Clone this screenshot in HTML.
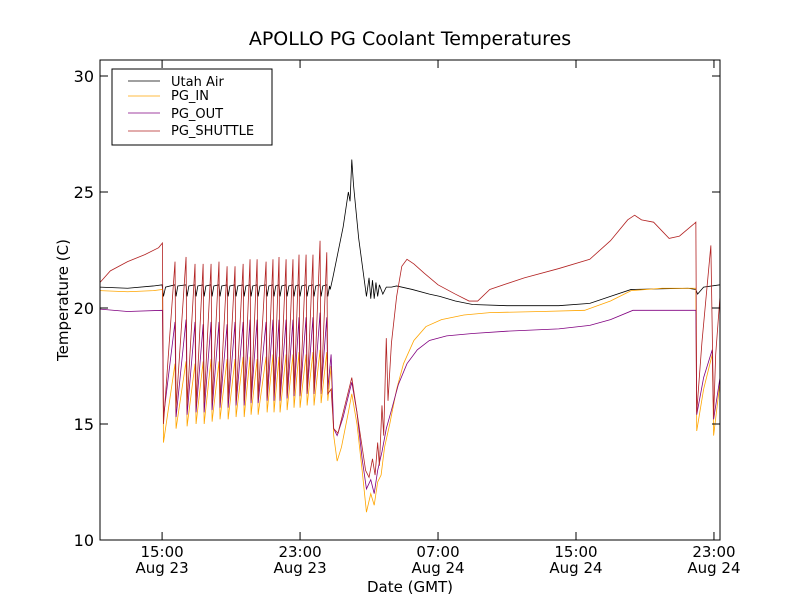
<!DOCTYPE html>
<html><head><meta charset="utf-8"><style>
html,body{margin:0;padding:0;background:#fff;}
svg text{font-family:"DejaVu Sans","Liberation Sans",sans-serif;fill:#000;}
</style></head><body>
<svg id="chart" width="800" height="600" viewBox="0 0 800 600" xmlns="http://www.w3.org/2000/svg">
<rect width="800" height="600" fill="#fff"/>
<text x="410" y="45" font-size="19" text-anchor="middle">APOLLO PG Coolant Temperatures</text>
<g id="plot"></g>
<rect x="100" y="60" width="620" height="480" fill="none" stroke="#000" stroke-width="1"/>
<g id="ticks"></g>
<text transform="translate(68,300) rotate(-90)" font-size="15" text-anchor="middle">Temperature (C)</text>
<text x="410" y="592" font-size="15" text-anchor="middle">Date (GMT)</text>
<g>
<rect x="112" y="69" width="160" height="76" fill="#fff" stroke="#000" stroke-width="1"/>
<line x1="128" y1="81" x2="160" y2="81" stroke="#000" stroke-width="0.7"/>
<text x="171" y="86" font-size="13">Utah Air</text>
<line x1="128" y1="96" x2="160" y2="96" stroke="#FFA500" stroke-width="0.7"/>
<text x="171" y="100" font-size="13">PG_IN</text>
<line x1="128" y1="113" x2="160" y2="113" stroke="#800080" stroke-width="0.7"/>
<text x="171" y="118" font-size="13">PG_OUT</text>
<line x1="128" y1="131" x2="160" y2="131" stroke="#B22222" stroke-width="0.7"/>
<text x="171" y="135" font-size="13">PG_SHUTTLE</text>
</g>
</svg>
<script>
// hours since Aug 23 00:00 GMT
const xTicks = [15, 23, 31, 39, 47];
const xTickTime = ["15:00", "23:00", "07:00", "15:00", "23:00"];
const xTickDate = ["Aug 23", "Aug 23", "Aug 24", "Aug 24", "Aug 24"];
const yTicks = [10, 15, 20, 25, 30];

// oscillation cycles (peak times and values)
const cycleT = [15.75,16.39,16.91,17.38,17.84,18.30,18.77,19.23,19.70,20.10,20.51,21.03,21.43,21.78,22.19,22.59,22.94,23.35,23.75,24.16,24.55];
const shuttlePeak = [22.0,22.2,21.9,21.9,21.9,22.0,21.8,21.8,21.9,22.1,22.1,22.0,22.1,22.2,22.1,22.1,22.3,22.3,22.3,22.9,22.4];
const shuttleTrough = [15.7,15.8,15.8,15.9,15.9,15.9,16.0,16.0,16.0,16.0,16.1,16.1,16.2,16.1,16.2,16.3,16.2,16.3,16.3,16.3,16.3];
const inPeak = [17.6,17.7,17.6,17.7,17.8,17.7,17.8,17.8,17.9,17.9,17.8,17.9,18.0,17.9,18.0,18.0,18.1,18.0,18.1,18.2,18.1];
const inTrough = [14.8,14.9,15.0,15.0,15.1,15.2,15.2,15.3,15.3,15.4,15.4,15.5,15.5,15.5,15.6,15.7,15.7,15.8,15.8,15.9,16.0];
const outPeak = [19.4,19.5,19.4,19.3,19.4,19.4,19.3,19.4,19.4,19.5,19.5,19.4,19.5,19.5,19.5,19.5,19.6,19.6,19.6,19.8,19.6];
const outTrough = [15.3,15.4,15.5,15.5,15.6,15.7,15.7,15.8,15.8,15.9,15.9,16.0,16.0,16.0,16.1,16.2,16.2,16.3,16.3,16.4,16.5];
const airPeak = [21.0,21.0,21.0,21.0,21.0,21.0,21.0,21.0,21.0,21.0,21.0,21.0,21.0,21.0,21.0,21.0,21.0,21.0,21.0,21.0,21.0];
const airDip = [20.5,20.5,20.5,20.5,20.5,20.5,20.5,20.5,20.5,20.5,20.5,20.5,20.5,20.5,20.5,20.5,20.5,20.5,20.5,20.5,20.5];

// before oscillation
const airPre = [[11.4,20.9],[13,20.85],[14.5,20.95],[15.0,21.0],[15.08,20.5],[15.2,20.9]];
const inPre = [[11.4,20.75],[13,20.7],[14.5,20.75],[15.02,20.8],[15.08,14.2]];
const outPre = [[11.4,19.95],[13,19.85],[15.02,19.9],[15.08,15.3]];
const shuttlePre = [[11.4,21.1],[12,21.6],[13,22.0],[14,22.3],[14.8,22.6],[15.02,22.8],[15.08,15.0]];

// after oscillation
const airPost = [[24.75,20.8],[24.9,21.3],[25.2,22.4],[25.5,23.5],[25.8,25.0],[25.9,24.6],[26.0,26.4],[26.1,25.3],[26.4,23.0],[26.85,20.5],[27.0,21.3],[27.1,20.4],[27.2,21.2],[27.3,20.4],[27.4,21.1],[27.5,20.5],[27.6,21.0],[27.8,20.6],[28.0,20.9],[28.3,20.9],[28.6,20.95],[29.5,20.8],[30.5,20.6],[31.1,20.5],[32,20.3],[33,20.15],[35,20.1],[38,20.1],[39.8,20.2],[41,20.5],[42.2,20.8],[45.5,20.85],[45.95,20.8],[46.05,20.6],[46.4,20.9],[47.35,21.0]];
const inPost = [[24.8,17.5],[24.95,14.5],[25.15,13.4],[25.4,14.0],[25.8,15.5],[26.0,16.3],[26.3,15.0],[26.6,13.0],[26.85,11.2],[27.1,12.0],[27.3,11.5],[27.5,12.5],[27.7,12.8],[27.9,14.0],[28.2,15.0],[28.6,16.5],[29.0,17.6],[29.6,18.6],[30.3,19.2],[31.2,19.5],[32.5,19.7],[34,19.8],[37,19.85],[39.5,19.9],[41,20.3],[42.2,20.75],[44,20.85],[45.95,20.85],[46.0,14.7],[46.4,16.5],[46.9,18.0],[46.98,14.5],[47.35,16.8]];
const outPost = [[24.8,18],[24.95,14.8],[25.15,14.5],[25.5,15.3],[26.0,16.8],[26.3,15.5],[26.6,13.5],[26.85,12.2],[27.1,12.6],[27.3,12.0],[27.5,13.0],[27.75,13.8],[28.0,14.8],[28.3,15.6],[28.7,16.7],[29.2,17.6],[29.8,18.2],[30.5,18.6],[31.5,18.8],[33,18.9],[35,19.0],[38,19.1],[39.8,19.25],[41,19.5],[42.3,19.9],[45.95,19.9],[46.0,15.4],[46.4,17.0],[46.9,18.2],[46.98,15.2],[47.35,17.0]];
const shuttlePost = [[24.8,16.5],[24.95,14.8],[25.2,14.6],[25.6,15.8],[26.0,17.0],[26.2,16.0],[26.5,14.5],[26.8,13.0],[27.0,12.7],[27.2,13.5],[27.35,12.8],[27.5,14.2],[27.6,13.2],[27.75,15.8],[27.85,14.5],[28.0,18.7],[28.1,16.0],[28.3,18.5],[28.6,20.5],[28.9,21.8],[29.2,22.1],[29.6,21.9],[30.2,21.5],[31.0,21.0],[32.0,20.6],[32.8,20.3],[33.3,20.3],[34.0,20.8],[36,21.3],[38,21.7],[39.8,22.1],[41,22.9],[42,23.8],[42.4,24.0],[42.8,23.8],[43.5,23.7],[44.4,23.0],[45.0,23.1],[45.8,23.6],[45.95,23.7],[46.0,15.5],[46.3,18.5],[46.82,22.7],[46.98,15.3],[47.1,18.0],[47.35,20.5]];

const X0=100,X1=720,Y0=540,Y1=60,XMIN=11.4,XMAX=47.35,YMIN=10,YMAX=30.69;
function xs(h){return X0+(h-XMIN)/(XMAX-XMIN)*(X1-X0);}
function ys(v){return Y0-(v-YMIN)/(YMAX-YMIN)*(Y0-Y1);}
const NS="http://www.w3.org/2000/svg";

function sawSeries(pre, peaks, troughs, post){
  const pts = pre.slice();
  for(let i=0;i<cycleT.length;i++){
    pts.push([cycleT[i], peaks[i]]);
    pts.push([cycleT[i]+0.06, troughs[i]]);
  }
  return pts.concat(post);
}
function airSeries(){
  const pts = airPre.slice();
  for(let i=0;i<cycleT.length;i++){
    pts.push([cycleT[i], airPeak[i]]);
    pts.push([cycleT[i]+0.06, airDip[i]]);
    pts.push([cycleT[i]+0.16, airPeak[i]-0.05]);
  }
  return pts.concat(airPost);
}

const plot=document.getElementById('plot');
function drawLine(pts,color,name){
  const p=document.createElementNS(NS,'path');
  p.setAttribute('d',pts.map((q,i)=>(i?'L':'M')+xs(q[0]).toFixed(2)+','+ys(q[1]).toFixed(2)).join(''));
  p.setAttribute('fill','none');
  p.setAttribute('stroke',color);
  p.setAttribute('stroke-width','0.8');
  
  
  plot.appendChild(p);
}
drawLine(airSeries(),'#000','utah-air-line');
drawLine(sawSeries(inPre,inPeak,inTrough,inPost),'#FFA500','pg-in-line');
drawLine(sawSeries(outPre,outPeak,outTrough,outPost),'#800080','pg-out-line');
drawLine(sawSeries(shuttlePre,shuttlePeak,shuttleTrough,shuttlePost),'#B22222','pg-shuttle-line');

const tg=document.getElementById('ticks');
function mk(tag,attrs){const e=document.createElementNS(NS,tag);for(const k in attrs)e.setAttribute(k,attrs[k]);tg.appendChild(e);return e;}
xTicks.forEach((h,i)=>{
  const x=xs(h);
  const t1=mk('line',{x1:x,y1:540,x2:x,y2:532,stroke:'#000','stroke-width':1});
  
  
  const t2=mk('line',{x1:x,y1:60,x2:x,y2:68,stroke:'#000','stroke-width':1});
  
  
  const a=mk('text',{x:x,y:557,'font-size':15,'text-anchor':'middle'});a.textContent=xTickTime[i];
  
  
  const b=mk('text',{x:x,y:573,'font-size':15,'text-anchor':'middle'});b.textContent=xTickDate[i];
  
  
});
yTicks.forEach(v=>{
  const y=ys(v);
  const t1=mk('line',{x1:100,y1:y,x2:108,y2:y,stroke:'#000','stroke-width':1});
  
  
  const t2=mk('line',{x1:712,y1:y,x2:720,y2:y,stroke:'#000','stroke-width':1});
  
  
  const a=mk('text',{x:94,y:y+6,'font-size':16,'text-anchor':'end'});a.textContent=v;
  
  
});
</script>
</body></html>
